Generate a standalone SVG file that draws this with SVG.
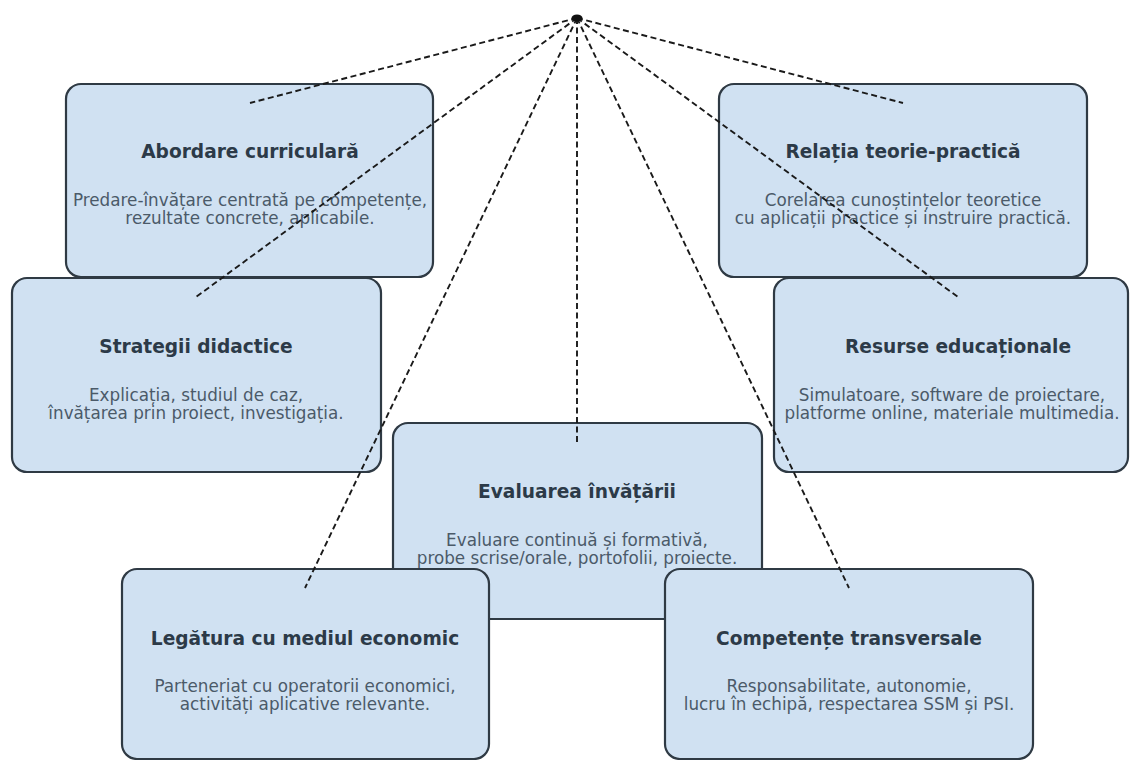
<svg xmlns="http://www.w3.org/2000/svg" width="1131" height="760" viewBox="0 0 1131 760">
<style>
.box{fill:#d0e1f2;stroke:#2f3a44;stroke-width:2.2}
.t{font-family:"DejaVu Sans",sans-serif;font-weight:bold;font-size:18.6px;fill:#2c3a48;text-anchor:middle}
.b{font-family:"DejaVu Sans",sans-serif;font-size:16.8px;fill:#4b5a69;text-anchor:middle}
.c{stroke:#1a1a1a;stroke-width:1.9;stroke-dasharray:6,3.5;fill:none}
</style>
<rect width="1131" height="760" fill="#ffffff"/>
<g id="abordare">
<rect class="box" x="66" y="84" width="367" height="193" rx="15"/>
<text class="t" x="250" y="158">Abordare curriculară</text>
<text class="b" x="250" y="206">Predare-învățare centrată pe competențe,</text>
<text class="b" x="250" y="224">rezultate concrete, aplicabile.</text>
</g>
<g id="relatia">
<rect class="box" x="719" y="84" width="368" height="193" rx="15"/>
<text class="t" x="903" y="158">Relația teorie-practică</text>
<text class="b" x="903" y="206">Corelarea cunoștințelor teoretice</text>
<text class="b" x="903" y="224">cu aplicații practice și instruire practică.</text>
</g>
<g id="strategii">
<rect class="box" x="12" y="278" width="369" height="194" rx="15"/>
<text class="t" x="196" y="353">Strategii didactice</text>
<text class="b" x="196" y="401">Explicația, studiul de caz,</text>
<text class="b" x="196" y="419">învățarea prin proiect, investigația.</text>
</g>
<g id="resurse">
<rect class="box" x="774" y="278" width="354" height="194" rx="15"/>
<text class="t" x="958" y="353">Resurse educaționale</text>
<text class="b" x="952" y="401">Simulatoare, software de proiectare,</text>
<text class="b" x="952" y="419">platforme online, materiale multimedia.</text>
</g>
<g id="evaluarea">
<rect class="box" x="393" y="423" width="369" height="196" rx="15"/>
<text class="t" x="577" y="498">Evaluarea învățării</text>
<text class="b" x="577" y="546">Evaluare continuă și formativă,</text>
<text class="b" x="577" y="564">probe scrise/orale, portofolii, proiecte.</text>
</g>
<g id="legatura">
<rect class="box" x="122" y="569" width="367" height="190" rx="15"/>
<text class="t" x="305" y="645">Legătura cu mediul economic</text>
<text class="b" x="305" y="692">Parteneriat cu operatorii economici,</text>
<text class="b" x="305" y="710">activități aplicative relevante.</text>
</g>
<g id="competente">
<rect class="box" x="665" y="569" width="368" height="190" rx="15"/>
<text class="t" x="849" y="645">Competențe transversale</text>
<text class="b" x="849" y="692">Responsabilitate, autonomie,</text>
<text class="b" x="849" y="710">lucru în echipă, respectarea SSM și PSI.</text>
</g>
<g id="connectors">
<line class="c" x1="577" y1="18" x2="250" y2="103"/>
<line class="c" x1="577" y1="18" x2="196" y2="297"/>
<line class="c" x1="577" y1="18" x2="305" y2="588"/>
<line class="c" x1="577" y1="18" x2="577" y2="442"/>
<line class="c" x1="577" y1="18" x2="849" y2="588"/>
<line class="c" x1="577" y1="18" x2="958" y2="297"/>
<line class="c" x1="577" y1="18" x2="903" y2="103"/>
<ellipse cx="577" cy="18" rx="5.5" ry="3.5" fill="#111"/>
</g>
</svg>
